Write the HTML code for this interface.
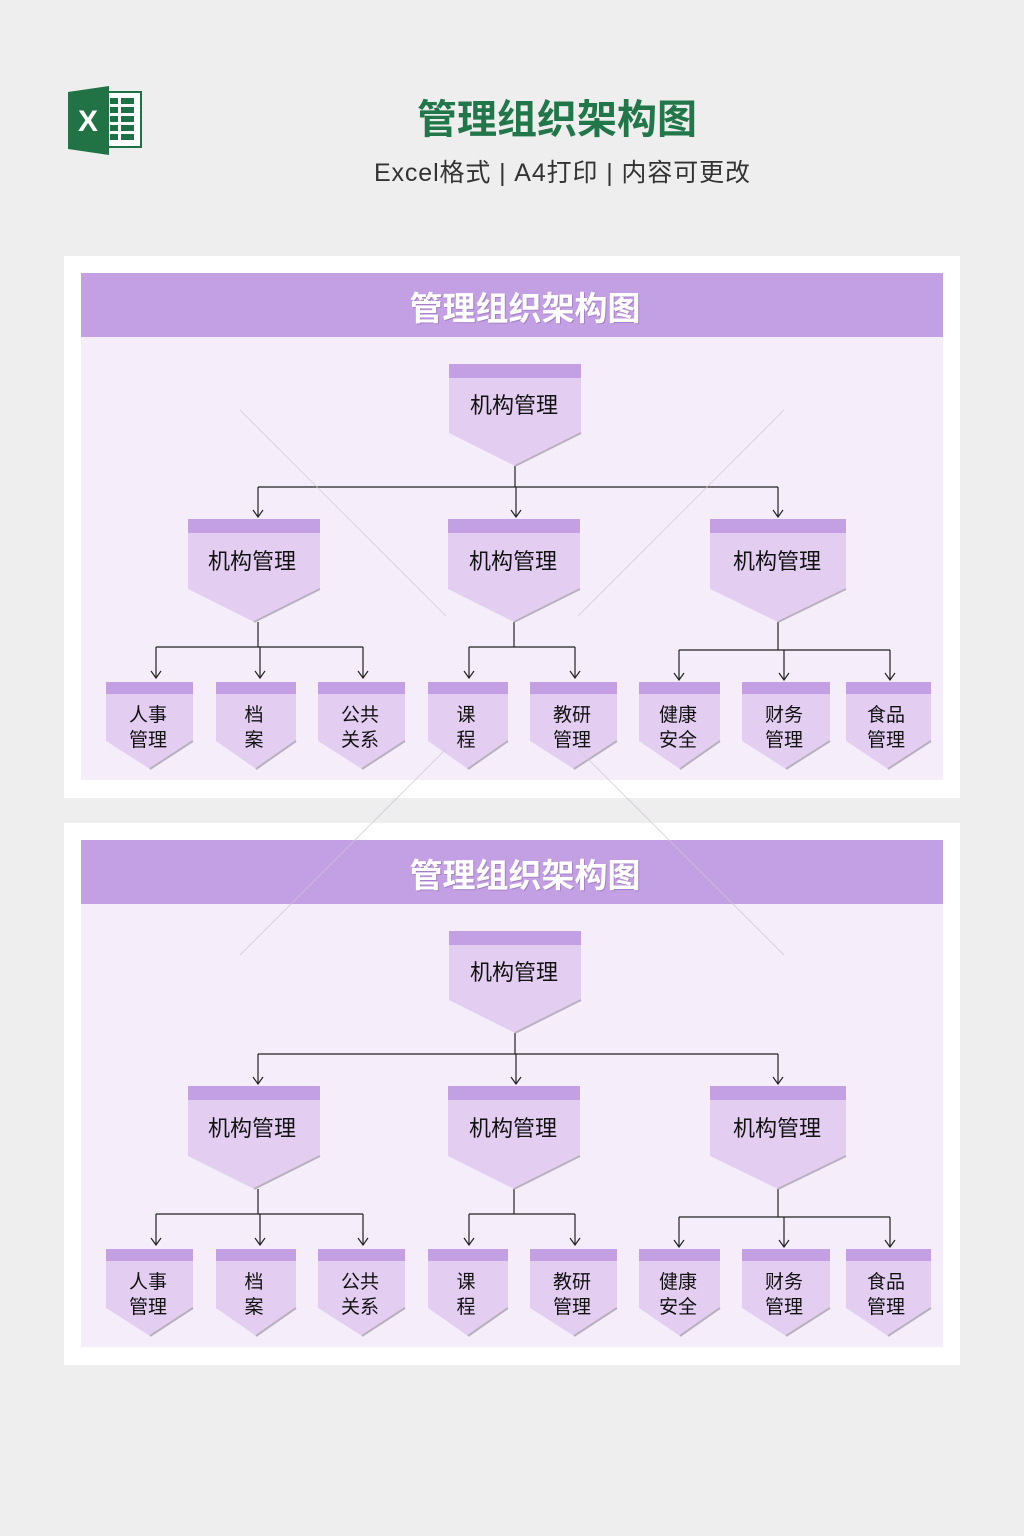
<!DOCTYPE html>
<html><head><meta charset="utf-8"><style>
html,body{margin:0;padding:0;background:#eeeeee;}
svg{display:block}
text{font-family:"Liberation Sans","Noto Sans CJK SC",sans-serif;}
</style></head><body>
<svg width="1024" height="1536" viewBox="0 0 1024 1536" xmlns="http://www.w3.org/2000/svg">
<defs>
<marker id="ar" markerWidth="12" markerHeight="12" refX="6" refY="11" orient="0" markerUnits="userSpaceOnUse">
<path d="M1,4 L6,11 L11,4" fill="none" stroke="#222" stroke-width="1.2"/>
</marker>
</defs>
<rect width="1024" height="1536" fill="#eeeeee"/>
<rect x="100" y="92" width="41" height="55" fill="#fff" stroke="#1e7145" stroke-width="2"/>
<g fill="#1e7145">
<rect x="110" y="98" width="8" height="6"/><rect x="121" y="98" width="13" height="6"/>
<rect x="110" y="107" width="8" height="6"/><rect x="121" y="107" width="13" height="6"/>
<rect x="110" y="116" width="8" height="6"/><rect x="121" y="116" width="13" height="6"/>
<rect x="110" y="125" width="8" height="6"/><rect x="121" y="125" width="13" height="6"/>
<rect x="110" y="134" width="8" height="6"/><rect x="121" y="134" width="13" height="6"/>
</g>
<polygon points="68,92 109,86 109,155 68,149" fill="#217346"/>
<text x="88" y="131" font-size="30" font-weight="bold" fill="#fff" text-anchor="middle">X</text>
<text x="557" y="133" font-size="40" font-weight="bold" fill="#21774a" text-anchor="middle">管理组织架构图</text>
<text x="374" y="181" font-size="25" fill="#333" textLength="376" lengthAdjust="spacing">Excel格式 | A4打印 | 内容可更改</text>

<!-- PANEL 1 -->
<g>
<rect x="64" y="256" width="896" height="542" fill="#fff"/>
<rect x="81" y="273" width="862" height="507" fill="#f5eefa"/>
<rect x="81" y="273" width="862" height="64" fill="#c39fe3"/>
<text x="526" y="321" font-size="33" font-weight="bold" fill="#8a62a8" text-anchor="middle" opacity="0.5">管理组织架构图</text>
<text x="525" y="320" font-size="33" font-weight="bold" fill="#fff" text-anchor="middle">管理组织架构图</text>
<g stroke="#222" stroke-width="1.2" fill="none">
<path d="M515,466V487M258,487H778"/>
<line x1="258" y1="487" x2="258" y2="517" marker-end="url(#ar)"/>
<line x1="516" y1="487" x2="516" y2="517" marker-end="url(#ar)"/>
<line x1="778" y1="487" x2="778" y2="517" marker-end="url(#ar)"/>
<path d="M258,622V647M156,647H363"/>
<line x1="156" y1="647" x2="156" y2="678" marker-end="url(#ar)"/>
<line x1="260" y1="647" x2="260" y2="678" marker-end="url(#ar)"/>
<line x1="363" y1="647" x2="363" y2="678" marker-end="url(#ar)"/>
<path d="M514,622V647M469,647H575"/>
<line x1="469" y1="647" x2="469" y2="678" marker-end="url(#ar)"/>
<line x1="575" y1="647" x2="575" y2="678" marker-end="url(#ar)"/>
<path d="M778,622V650M679,650H890"/>
<line x1="679" y1="650" x2="679" y2="680" marker-end="url(#ar)"/>
<line x1="784" y1="650" x2="784" y2="680" marker-end="url(#ar)"/>
<line x1="890" y1="650" x2="890" y2="680" marker-end="url(#ar)"/>
</g>
<g font-size="22" fill="#111" text-anchor="middle">
<polygon points="449,378 581,378 581,433 515,466 449,433" fill="#e3cef2"/><line x1="581" y1="433" x2="515" y2="466" stroke="#b8b0bc" stroke-width="2"/><rect x="449" y="364" width="132" height="14" fill="#c39fe3"/>
<text x="514" y="413">机构管理</text>
<polygon points="188,533 320,533 320,589 254,622 188,589" fill="#e3cef2"/><line x1="320" y1="589" x2="254" y2="622" stroke="#b8b0bc" stroke-width="2"/><rect x="188" y="519" width="132" height="14" fill="#c39fe3"/>
<text x="252" y="569">机构管理</text>
<polygon points="448,533 580,533 580,589 514,622 448,589" fill="#e3cef2"/><line x1="580" y1="589" x2="514" y2="622" stroke="#b8b0bc" stroke-width="2"/><rect x="448" y="519" width="132" height="14" fill="#c39fe3"/>
<text x="513" y="569">机构管理</text>
<polygon points="710,533 846,533 846,589 778,622 710,589" fill="#e3cef2"/><line x1="846" y1="589" x2="778" y2="622" stroke="#b8b0bc" stroke-width="2"/><rect x="710" y="519" width="136" height="14" fill="#c39fe3"/>
<text x="777" y="569">机构管理</text>
</g>
<g font-size="19" fill="#111" text-anchor="middle">
<polygon points="106,694 193,694 193,741 150,769 106,741" fill="#e3cef2"/><line x1="193" y1="741" x2="150" y2="769" stroke="#b8b0bc" stroke-width="2"/><rect x="106" y="682" width="87" height="12" fill="#c39fe3"/>
<text x="148" y="721">人事</text><text x="148" y="746">管理</text>
<polygon points="216,694 296,694 296,741 256,769 216,741" fill="#e3cef2"/><line x1="296" y1="741" x2="256" y2="769" stroke="#b8b0bc" stroke-width="2"/><rect x="216" y="682" width="80" height="12" fill="#c39fe3"/>
<text x="254" y="721">档</text><text x="254" y="746">案</text>
<polygon points="318,694 405,694 405,741 362,769 318,741" fill="#e3cef2"/><line x1="405" y1="741" x2="362" y2="769" stroke="#b8b0bc" stroke-width="2"/><rect x="318" y="682" width="87" height="12" fill="#c39fe3"/>
<text x="360" y="721">公共</text><text x="360" y="746">关系</text>
<polygon points="428,694 508,694 508,741 468,769 428,741" fill="#e3cef2"/><line x1="508" y1="741" x2="468" y2="769" stroke="#b8b0bc" stroke-width="2"/><rect x="428" y="682" width="80" height="12" fill="#c39fe3"/>
<text x="466" y="721">课</text><text x="466" y="746">程</text>
<polygon points="530,694 617,694 617,741 574,769 530,741" fill="#e3cef2"/><line x1="617" y1="741" x2="574" y2="769" stroke="#b8b0bc" stroke-width="2"/><rect x="530" y="682" width="87" height="12" fill="#c39fe3"/>
<text x="572" y="721">教研</text><text x="572" y="746">管理</text>
<polygon points="639,694 720,694 720,741 680,769 639,741" fill="#e3cef2"/><line x1="720" y1="741" x2="680" y2="769" stroke="#b8b0bc" stroke-width="2"/><rect x="639" y="682" width="81" height="12" fill="#c39fe3"/>
<text x="678" y="721">健康</text><text x="678" y="746">安全</text>
<polygon points="742,694 830,694 830,741 786,769 742,741" fill="#e3cef2"/><line x1="830" y1="741" x2="786" y2="769" stroke="#b8b0bc" stroke-width="2"/><rect x="742" y="682" width="88" height="12" fill="#c39fe3"/>
<text x="784" y="721">财务</text><text x="784" y="746">管理</text>
<polygon points="846,694 931,694 931,741 888,769 846,741" fill="#e3cef2"/><line x1="931" y1="741" x2="888" y2="769" stroke="#b8b0bc" stroke-width="2"/><rect x="846" y="682" width="85" height="12" fill="#c39fe3"/>
<text x="886" y="721">食品</text><text x="886" y="746">管理</text>
</g>
</g>

<!-- PANEL 2 -->
<g transform="translate(0,567)">
<rect x="64" y="256" width="896" height="542" fill="#fff"/>
<rect x="81" y="273" width="862" height="507" fill="#f5eefa"/>
<rect x="81" y="273" width="862" height="64" fill="#c39fe3"/>
<text x="526" y="321" font-size="33" font-weight="bold" fill="#8a62a8" text-anchor="middle" opacity="0.5">管理组织架构图</text>
<text x="525" y="320" font-size="33" font-weight="bold" fill="#fff" text-anchor="middle">管理组织架构图</text>
<g stroke="#222" stroke-width="1.2" fill="none">
<path d="M515,466V487M258,487H778"/>
<line x1="258" y1="487" x2="258" y2="517" marker-end="url(#ar)"/>
<line x1="516" y1="487" x2="516" y2="517" marker-end="url(#ar)"/>
<line x1="778" y1="487" x2="778" y2="517" marker-end="url(#ar)"/>
<path d="M258,622V647M156,647H363"/>
<line x1="156" y1="647" x2="156" y2="678" marker-end="url(#ar)"/>
<line x1="260" y1="647" x2="260" y2="678" marker-end="url(#ar)"/>
<line x1="363" y1="647" x2="363" y2="678" marker-end="url(#ar)"/>
<path d="M514,622V647M469,647H575"/>
<line x1="469" y1="647" x2="469" y2="678" marker-end="url(#ar)"/>
<line x1="575" y1="647" x2="575" y2="678" marker-end="url(#ar)"/>
<path d="M778,622V650M679,650H890"/>
<line x1="679" y1="650" x2="679" y2="680" marker-end="url(#ar)"/>
<line x1="784" y1="650" x2="784" y2="680" marker-end="url(#ar)"/>
<line x1="890" y1="650" x2="890" y2="680" marker-end="url(#ar)"/>
</g>
<g font-size="22" fill="#111" text-anchor="middle">
<polygon points="449,378 581,378 581,433 515,466 449,433" fill="#e3cef2"/><line x1="581" y1="433" x2="515" y2="466" stroke="#b8b0bc" stroke-width="2"/><rect x="449" y="364" width="132" height="14" fill="#c39fe3"/>
<text x="514" y="413">机构管理</text>
<polygon points="188,533 320,533 320,589 254,622 188,589" fill="#e3cef2"/><line x1="320" y1="589" x2="254" y2="622" stroke="#b8b0bc" stroke-width="2"/><rect x="188" y="519" width="132" height="14" fill="#c39fe3"/>
<text x="252" y="569">机构管理</text>
<polygon points="448,533 580,533 580,589 514,622 448,589" fill="#e3cef2"/><line x1="580" y1="589" x2="514" y2="622" stroke="#b8b0bc" stroke-width="2"/><rect x="448" y="519" width="132" height="14" fill="#c39fe3"/>
<text x="513" y="569">机构管理</text>
<polygon points="710,533 846,533 846,589 778,622 710,589" fill="#e3cef2"/><line x1="846" y1="589" x2="778" y2="622" stroke="#b8b0bc" stroke-width="2"/><rect x="710" y="519" width="136" height="14" fill="#c39fe3"/>
<text x="777" y="569">机构管理</text>
</g>
<g font-size="19" fill="#111" text-anchor="middle">
<polygon points="106,694 193,694 193,741 150,769 106,741" fill="#e3cef2"/><line x1="193" y1="741" x2="150" y2="769" stroke="#b8b0bc" stroke-width="2"/><rect x="106" y="682" width="87" height="12" fill="#c39fe3"/>
<text x="148" y="721">人事</text><text x="148" y="746">管理</text>
<polygon points="216,694 296,694 296,741 256,769 216,741" fill="#e3cef2"/><line x1="296" y1="741" x2="256" y2="769" stroke="#b8b0bc" stroke-width="2"/><rect x="216" y="682" width="80" height="12" fill="#c39fe3"/>
<text x="254" y="721">档</text><text x="254" y="746">案</text>
<polygon points="318,694 405,694 405,741 362,769 318,741" fill="#e3cef2"/><line x1="405" y1="741" x2="362" y2="769" stroke="#b8b0bc" stroke-width="2"/><rect x="318" y="682" width="87" height="12" fill="#c39fe3"/>
<text x="360" y="721">公共</text><text x="360" y="746">关系</text>
<polygon points="428,694 508,694 508,741 468,769 428,741" fill="#e3cef2"/><line x1="508" y1="741" x2="468" y2="769" stroke="#b8b0bc" stroke-width="2"/><rect x="428" y="682" width="80" height="12" fill="#c39fe3"/>
<text x="466" y="721">课</text><text x="466" y="746">程</text>
<polygon points="530,694 617,694 617,741 574,769 530,741" fill="#e3cef2"/><line x1="617" y1="741" x2="574" y2="769" stroke="#b8b0bc" stroke-width="2"/><rect x="530" y="682" width="87" height="12" fill="#c39fe3"/>
<text x="572" y="721">教研</text><text x="572" y="746">管理</text>
<polygon points="639,694 720,694 720,741 680,769 639,741" fill="#e3cef2"/><line x1="720" y1="741" x2="680" y2="769" stroke="#b8b0bc" stroke-width="2"/><rect x="639" y="682" width="81" height="12" fill="#c39fe3"/>
<text x="678" y="721">健康</text><text x="678" y="746">安全</text>
<polygon points="742,694 830,694 830,741 786,769 742,741" fill="#e3cef2"/><line x1="830" y1="741" x2="786" y2="769" stroke="#b8b0bc" stroke-width="2"/><rect x="742" y="682" width="88" height="12" fill="#c39fe3"/>
<text x="784" y="721">财务</text><text x="784" y="746">管理</text>
<polygon points="846,694 931,694 931,741 888,769 846,741" fill="#e3cef2"/><line x1="931" y1="741" x2="888" y2="769" stroke="#b8b0bc" stroke-width="2"/><rect x="846" y="682" width="85" height="12" fill="#c39fe3"/>
<text x="886" y="721">食品</text><text x="886" y="746">管理</text>
</g>
</g>
<g stroke="#cfc6d6" stroke-width="1" opacity="0.7"><line x1="240" y1="410" x2="446" y2="616"/><line x1="784" y1="410" x2="578" y2="616"/><line x1="240" y1="955" x2="446" y2="749"/><line x1="784" y1="955" x2="578" y2="749"/></g>
</svg>
</body></html>
